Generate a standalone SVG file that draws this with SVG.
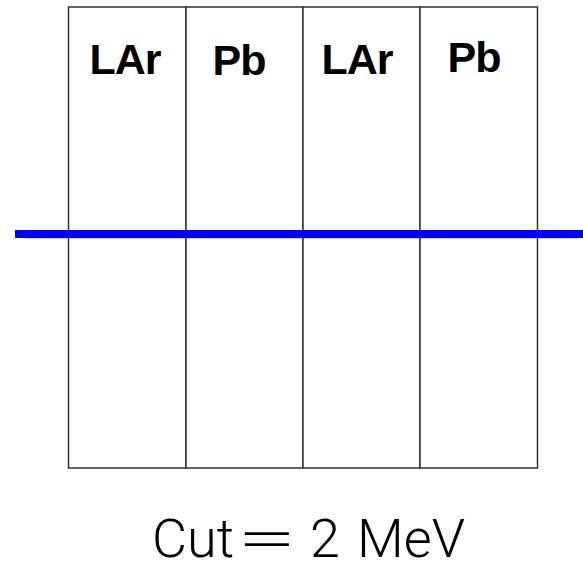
<svg xmlns="http://www.w3.org/2000/svg" width="583" height="562" viewBox="0 0 583 562">
<style>
.col{fill:#fff;stroke:#333;stroke-width:1.5}
.lbl{font-family:"Liberation Sans",Arial,sans-serif;font-weight:bold;font-size:43px;letter-spacing:-1px;fill:#000;text-anchor:middle}
.cut{font-family:Roboto,"Liberation Sans",sans-serif;font-weight:300;font-size:54px;fill:#000}
</style>
<rect width="583" height="562" fill="#fff"/>
<g id="layer1"><rect class="col" x="68.5" y="7" width="117.5" height="461"/><text class="lbl" x="125" y="74">LAr</text></g>
<g id="layer2"><rect class="col" x="186" y="7" width="117" height="461"/><text class="lbl" x="239" y="75">Pb</text></g>
<g id="layer3"><rect class="col" x="303" y="7" width="117" height="461"/><text class="lbl" x="357" y="74">LAr</text></g>
<g id="layer4"><rect class="col" x="420" y="7" width="117.5" height="461"/><text class="lbl" x="474" y="72">Pb</text></g>
<g id="connectors">
<line x1="25" y1="237.5" x2="578" y2="237.5" stroke="#b030c0" stroke-width="1.5"/>
<line x1="15" y1="234" x2="583" y2="234" stroke="#0000ff" stroke-width="8"/>
</g>
<g id="caption">
<text class="cut" x="152" y="557">Cut</text>
<text class="cut" transform="translate(237 557) scale(2.0 1)" x="0" y="0">=</text>
<text class="cut" x="310" y="557">2</text>
<text class="cut" x="357" y="557">MeV</text>
</g>
</svg>
